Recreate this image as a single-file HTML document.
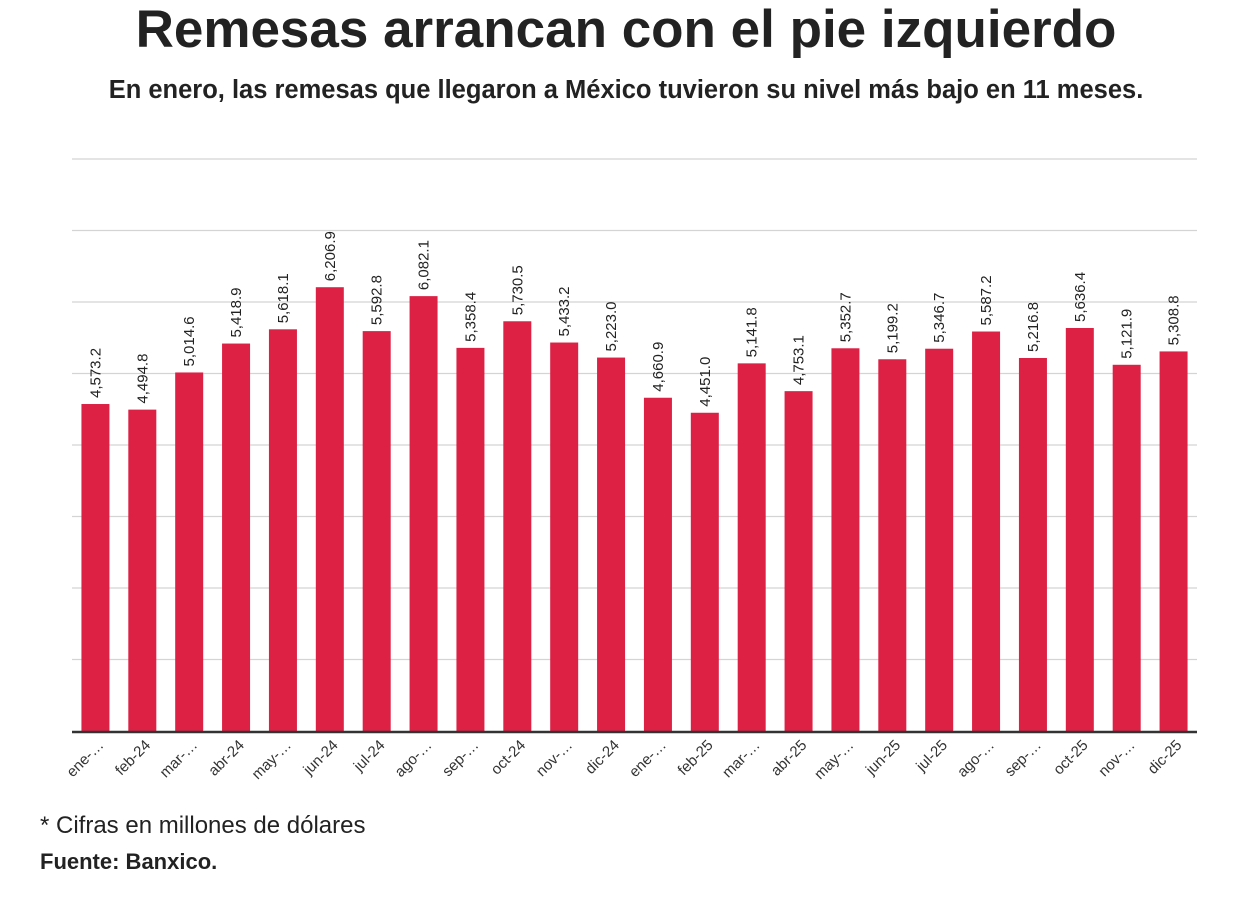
<!DOCTYPE html>
<html><head><meta charset="utf-8"><style>
body{margin:0;background:#fff;width:1246px;height:900px;overflow:hidden;font-family:"Liberation Sans",sans-serif}
h1{position:absolute;top:1px;left:0;width:1252px;text-align:center;margin:0;font-size:53px;line-height:58px;font-weight:bold;color:#222}
h2{position:absolute;top:76px;left:0;width:1252px;text-align:center;margin:0;font-size:25.5px;font-weight:bold;color:#222;white-space:nowrap}
.note{position:absolute;left:40px;font-size:24px;color:#222}
</style></head><body>
<h1>Remesas arrancan con el pie izquierdo</h1>
<h2>En enero, las remesas que llegaron a México tuvieron su nivel más bajo en 11 meses.</h2>
<svg id="c" width="1246" height="900" style="position:absolute;left:0;top:0"></svg>
<div class="note" style="top:812px">* Cifras en millones de dólares</div>
<div class="note" style="top:849px;font-weight:bold;font-size:22px">Fuente: Banxico.</div>
<script>
const categories=["ene-…","feb-24","mar-…","abr-24","may-…","jun-24","jul-24","ago-…","sep-…","oct-24","nov-…","dic-24","ene-…","feb-25","mar-…","abr-25","may-…","jun-25","jul-25","ago-…","sep-…","oct-25","nov-…","dic-25"];
const values=[4573.2,4494.8,5014.6,5418.9,5618.1,6206.9,5592.8,6082.1,5358.4,5730.5,5433.2,5223.0,4660.9,4451.0,5141.8,4753.1,5352.7,5199.2,5346.7,5587.2,5216.8,5636.4,5121.9,5308.8];
const ticks=[0,1000,2000,3000,4000,5000,6000,7000,8000];
const NS="http://www.w3.org/2000/svg";
const svg=document.getElementById('c');
const x0=72,x1=1197,y0=731,y1=159,vmax=8000;
const bw=(x1-x0)/categories.length;
const y=v=>y0-(v/vmax)*(y0-y1);
const xc=i=>x0+bw*(i+0.5);
function mk(t,a){const e=document.createElementNS(NS,t);for(const k in a)e.setAttribute(k,a[k]);svg.appendChild(e);return e;}
ticks.forEach(t=>{if(t===0)return;const l=mk('line',{x1:x0,x2:x1,y1:y(t),y2:y(t),stroke:'#d4d4d4','stroke-width':1.3});

});
values.forEach((v,i)=>{
const r=mk('rect',{x:xc(i)-14,y:y(v),width:28,height:y0-y(v),fill:'#dc2145'});


const cx=xc(i)+5,ty=y(v)-6;
const t=mk('text',{x:cx,y:ty,transform:`rotate(-90 ${cx} ${ty})`,'font-size':15,fill:'#222'});
t.textContent=v.toLocaleString('en-US',{minimumFractionDigits:1,maximumFractionDigits:1});


const lx=xc(i)+9,ly=746;
const c=mk('text',{x:lx,y:ly,transform:`rotate(-45 ${lx} ${ly})`,'text-anchor':'end','font-size':15,fill:'#333'});
c.textContent=categories[i];


});
const ax=mk('line',{x1:x0,x2:x1,y1:y0+1,y2:y0+1,stroke:'#333','stroke-width':2.5});


</script>
</body></html>
